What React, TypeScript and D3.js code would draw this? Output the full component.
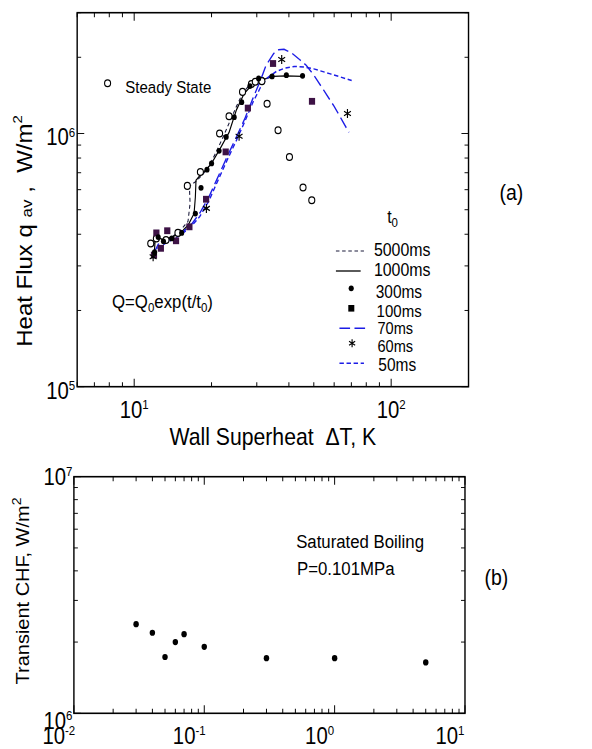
import React from 'react';
import * as d3 from 'd3';

// ---------- Panel (a) data: wall superheat (K) vs heat flux (W/m2) ----------
const steadyT = [11.6, 12.2, 13.3, 14.8, 16.1, 18.1, 21.5, 23.4, 26.4, 28.6, 29.6, 31.4, 32.9, 36.3, 40.2, 45.4, 49.1];
const steadyQ = [3.68e5, 3.85e5, 3.8e5, 4.05e5, 6.21e5, 7.05e5, 1.0e6, 1.17e6, 1.46e6, 1.57e6, 1.6e6, 1.61e6, 1.31e6, 1.03e6, 8.08e5, 6.12e5, 5.45e5];

const t300T = [12.0, 12.4, 13.0, 14.0, 15.3, 17.3, 18.2, 19.2, 20.0, 21.4, 22.8, 24.5, 26.2, 28.2, 30.5, 34.4, 39.1, 45.2];
const t300Q = [3.4e5, 3.9e5, 3.75e5, 3.85e5, 4.05e5, 4.83e5, 6.1e5, 7.2e5, 7.62e5, 8.54e5, 9.69e5, 1.16e6, 1.33e6, 1.54e6, 1.65e6, 1.68e6, 1.7e6, 1.69e6];

const t100T = [11.94, 12.2, 12.7, 13.45, 14.55, 16.4, 19.05, 22.7, 27.7, 34.7, 49.2];
const t100Q = [3.31e5, 4.05e5, 3.52e5, 4.13e5, 3.77e5, 4.28e5, 5.5e5, 8.46e5, 1.26e6, 1.89e6, 1.34e6];

const t60T = [11.85, 19.1, 25.6, 37.5, 67.6];
const t60Q = [3.26e5, 5.06e5, 9.75e5, 1.96e6, 1.2e6];

const line5000: [number, number][] = [[11.8, 3.6e5], [12.3, 3.85e5], [13.0, 3.8e5], [14.0, 3.9e5], [15.0, 4.1e5], [16.2, 4.5e5], [16.5, 5.3e5], [16.4, 6.2e5], [17.5, 6.5e5], [18.5, 6.9e5], [19.5, 7.4e5], [20.8, 8.4e5], [22.2, 9.7e5], [23.6, 1.12e6], [25.0, 1.28e6], [26.5, 1.45e6], [28.2, 1.56e6], [30, 1.62e6], [32, 1.66e6]];
const line1000: [number, number][] = [[11.95, 3.26e5], [12.1, 3.97e5], [12.6, 3.85e5], [13.1, 3.79e5], [14.0, 3.9e5], [14.55, 3.97e5], [15.5, 4.15e5], [16.2, 4.34e5], [17.1, 4.83e5], [17.3, 5.6e5], [17.4, 6.54e5], [18.2, 6.9e5], [19.0, 7.17e5], [20, 7.62e5], [21.6, 8.72e5], [23.4, 1.01e6], [25.0, 1.24e6], [26.8, 1.44e6], [29, 1.57e6], [31.4, 1.63e6], [34.8, 1.68e6], [38.8, 1.69e6], [45.2, 1.68e6]];
const line70: [number, number][] = [[11.9, 3.35e5], [12.4, 3.65e5], [13.5, 3.78e5], [15, 4.0e5], [16.5, 4.3e5], [18, 4.85e5], [19.5, 5.6e5], [21, 6.6e5], [23, 8.1e5], [25, 9.7e5], [27, 1.15e6], [29, 1.38e6], [31, 1.62e6], [32.6, 1.86e6], [34.9, 2.07e6], [36.5, 2.14e6], [38.3, 2.15e6], [41, 2.08e6], [44, 1.96e6], [46.7, 1.86e6], [50, 1.7e6], [54.7, 1.48e6], [60, 1.28e6], [68.5, 1.01e6]];
const line50: [number, number][] = [[11.9, 3.3e5], [12.4, 3.55e5], [13.5, 3.72e5], [15, 3.95e5], [16.5, 4.25e5], [18, 4.7e5], [19.5, 5.4e5], [21, 6.4e5], [23, 7.85e5], [25, 9.4e5], [27, 1.12e6], [29, 1.33e6], [31, 1.52e6], [33, 1.66e6], [35.8, 1.76e6], [38.5, 1.81e6], [42, 1.84e6], [46, 1.83e6], [50, 1.8e6], [58, 1.72e6], [70.2, 1.62e6]];

const topXDomain = [6, 200];
const topYDomain = [1e5, 3e6];
const topXLabels = [1, 2];
const topYLabels = [5, 6];

// ---------- Panel (b) data: t0 (s) vs transient CHF ----------
const periodB = [0.03, 0.04, 0.05, 0.06, 0.07, 0.1, 0.3, 1, 5];
const chfB = [2.38e6, 2.19e6, 1.73e6, 2.0e6, 2.16e6, 1.91e6, 1.71e6, 1.71e6, 1.64e6];
const botXDomain = [0.01, 10];
const botYDomain = [1e6, 1e7];
const botXLabels = [-2, -1, 0, 1];
const botYLabels = [6, 7];

const FONT = 'Liberation Sans, Arial, Helvetica, sans-serif';
const BLUE = '#1c1ce6';
const PURPLE = '#3d1245';
const SX = 0.884; // the original figure is horizontally compressed

function logTicks(lo: number, hi: number) {
  const out: { v: number; major: boolean }[] = [];
  for (let e = Math.floor(Math.log10(lo)) - 1; e <= Math.ceil(Math.log10(hi)); e++) {
    for (let k = 1; k < 10; k++) {
      const v = k * Math.pow(10, e);
      if (v >= lo * 0.9999 && v <= hi * 1.0001) out.push({ v, major: k === 1 });
    }
  }
  return out;
}

function Frame({ x, y }: { x: d3.ScaleLogarithmic<number, number>; y: d3.ScaleLogarithmic<number, number> }) {
  const [x0, x1] = x.range();
  const [yb, yt] = y.range();
  const xd = x.domain();
  const yd = y.domain();
  const maj = 8, min = 4.5;
  return (
    <g stroke="#000">
      {logTicks(xd[0], xd[1]).map((t, i) => {
        const px = x(t.v);
        const l = t.major ? maj : min;
        return (
          <g key={'x' + i} strokeWidth={1.1}>
            <line x1={px} x2={px} y1={yb} y2={yb - l} />
            <line x1={px} x2={px} y1={yt} y2={yt + l} />
          </g>
        );
      })}
      {logTicks(yd[0], yd[1]).map((t, i) => {
        const py = y(t.v);
        const l = t.major ? maj : min;
        return (
          <g key={'y' + i} strokeWidth={1}>
            <line x1={x0} x2={x0 + l} y1={py} y2={py} />
            <line x1={x1} x2={x1 - l} y1={py} y2={py} />
          </g>
        );
      })}
      <rect x={x0} y={yt} width={x1 - x0} height={yb - yt} fill="none" strokeWidth={1.6} />
    </g>
  );
}

function Pow({ x, y, e, anchor }: { x: number; y: number; e: number; anchor: string }) {
  return (
    <text x={x} y={y} textAnchor={anchor} fontSize={23} fontFamily={FONT}>
      10<tspan fontSize={13} dy={-9}>{e}</tspan>
    </text>
  );
}

function Star({ cx, cy, s = 4.5 }: { cx: number; cy: number; s?: number }) {
  const a = s * 0.866, b = s * 0.5;
  return (
    <path
      d={`M${cx},${cy - s}L${cx},${cy + s}M${cx - a},${cy - b}L${cx + a},${cy + b}M${cx - a},${cy + b}L${cx + a},${cy - b}`}
      stroke="#000"
      strokeWidth={1.3}
      fill="none"
    />
  );
}

export default function App() {
  const xT = d3.scaleLog().domain(topXDomain).range([87.3, 530]);
  const yT = d3.scaleLog().domain(topYDomain).range([386.7, 12.7]);
  const xB = d3.scaleLog().domain(botXDomain).range([83.6, 526]);
  const yB = d3.scaleLog().domain(botYDomain).range([713.3, 476.7]);

  const lineT = d3.line<[number, number]>().x((d) => xT(d[0])).y((d) => yT(d[1]));

  return (
    <svg width={592} height={749} style={{ position: 'absolute', left: 0, top: 0, background: '#fff' }} fontFamily={FONT}>
      <rect width={592} height={749} fill="#fff" />
      <g transform={`scale(${SX},1)`}>
        {/* ---------------- Panel (a) ---------------- */}
        <g>
          <path d={lineT(line5000)!} fill="none" stroke="#1a1a3a" strokeWidth={1.2} strokeDasharray="4,3" />
          <path d={lineT(line1000)!} fill="none" stroke="#000" strokeWidth={1.3} />
          <path d={lineT(line70)!} fill="none" stroke={BLUE} strokeWidth={1.5} strokeDasharray="12,5" />
          <path d={lineT(line50)!} fill="none" stroke={BLUE} strokeWidth={1.5} strokeDasharray="5,3" />

          {steadyT.map((t, i) => (
            <circle key={'s' + i} cx={xT(t)} cy={yT(steadyQ[i])} r={3.4} fill="#fff" stroke="#000" strokeWidth={1.25} />
          ))}
          {t100T.map((t, i) => (
            <rect key={'q' + i} x={xT(t) - 3.5} y={yT(t100Q[i]) - 3.4} width={7} height={6.8} fill={PURPLE} />
          ))}
          {t300T.map((t, i) => (
            <circle key={'f' + i} cx={xT(t)} cy={yT(t300Q[i])} r={2.9} fill="#000" />
          ))}
          {t60T.map((t, i) => (
            <Star key={'st' + i} cx={xT(t)} cy={yT(t60Q[i])} />
          ))}

          <Frame x={xT} y={yT} />

          {topYLabels.map((e) => (
            <Pow key={'ty' + e} x={85} y={yT(Math.pow(10, e)) + 12} e={e} anchor="end" />
          ))}
          {topXLabels.map((e) => (
            <Pow key={'tx' + e} x={xT(Math.pow(10, e))} y={417.7} e={e} anchor="middle" />
          ))}

          <text x={308.6} y={445} textAnchor="middle" fontSize={24} style={{ whiteSpace: 'pre' }}>
            Wall Superheat  ΔT, K
          </text>
          <text transform="translate(36,231) rotate(-90)" textAnchor="middle" fontSize={24} style={{ whiteSpace: 'pre' }}>
            Heat Flux q <tspan fontSize={17}>av</tspan> ,  W/m<tspan fontSize={15} dy={-11}>2</tspan>
          </text>

          <circle cx={121.7} cy={83.3} r={3.4} fill="#fff" stroke="#000" strokeWidth={1.25} />
          <text x={141.7} y={93} fontSize={17}>Steady State</text>

          <text x={126.7} y={308.3} fontSize={19}>
            Q=Q<tspan fontSize={13} dy={4}>0</tspan>
            <tspan dy={-4}>exp(t/t</tspan>
            <tspan fontSize={13} dy={4}>0</tspan>
            <tspan dy={-4}>)</tspan>
          </text>

          <text x={438} y={223} fontSize={18}>
            t<tspan fontSize={13} dy={4}>0</tspan>
          </text>

          {/* legend */}
          <line x1={380} x2={411.7} y1={251} y2={251} stroke="#1a1a3a" strokeWidth={1.2} strokeDasharray="4,3" />
          <text x={423} y={256.5} fontSize={18}>5000ms</text>
          <line x1={380} x2={408} y1={271} y2={271} stroke="#000" strokeWidth={1.3} />
          <text x={423} y={276.5} fontSize={18}>1000ms</text>
          <circle cx={397.3} cy={288.3} r={2.9} fill="#000" />
          <text x={425} y={297.7} fontSize={17.5}>300ms</text>
          <rect x={394} y={305} width={6.8} height={6.6} fill="#000" />
          <text x={426} y={317} fontSize={17}>100ms</text>
          <line x1={384} x2={416} y1={328.3} y2={328.3} stroke={BLUE} strokeWidth={1.5} strokeDasharray="12,5" />
          <text x={427} y={334.5} fontSize={16.5}>70ms</text>
          <Star cx={398.3} cy={343.3} s={4} />
          <text x={427} y={352} fontSize={16.5}>60ms</text>
          <line x1={384} x2={411.7} y1={363.3} y2={363.3} stroke={BLUE} strokeWidth={1.5} strokeDasharray="5,3" />
          <text x={428} y={371} fontSize={17.5}>50ms</text>

          <text x={565} y={200} fontSize={22}>(a)</text>
        </g>

        {/* ---------------- Panel (b) ---------------- */}
        <g>
          {periodB.map((t, i) => (
            <circle key={'b' + i} cx={xB(t)} cy={yB(chfB[i])} r={3.1} fill="#000" />
          ))}
          <Frame x={xB} y={yB} />
          {botYLabels.map((e) => (
            <Pow key={'by' + e} x={82} y={yB(Math.pow(10, e)) + (e === 7 ? 8 : 16)} e={e} anchor="end" />
          ))}
          {botXLabels.map((e) => (
            <Pow key={'bx' + e} x={xB(Math.pow(10, e)) - 17} y={744} e={e} anchor="middle" />
          ))}
          <text transform="translate(33,591) rotate(-90)" textAnchor="middle" fontSize={20}>
            Transient CHF, W/m<tspan fontSize={14} dy={-9}>2</tspan>
          </text>
          <text x={335} y={548.3} fontSize={19}>Saturated Boiling</text>
          <text x={336} y={575} fontSize={19}>P=0.101MPa</text>
          <text x={548} y={585} fontSize={22}>(b)</text>
        </g>
      </g>
    </svg>
  );
}
